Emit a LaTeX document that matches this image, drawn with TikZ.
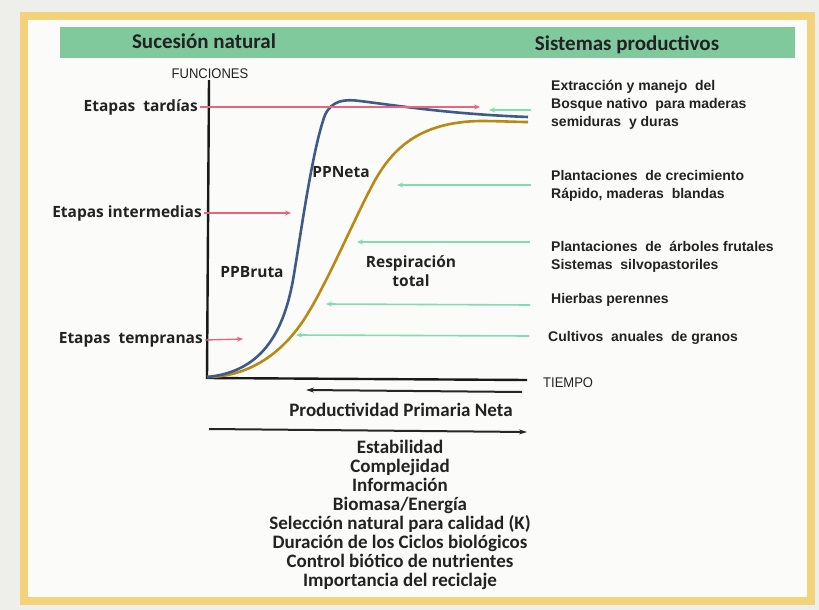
\documentclass[tikz,border=0pt]{standalone}
\usepackage{fontspec}
\setmainfont{Carlito}
\newfontfamily\arialf{Liberation Sans}
\newfontfamily\opensf{Open Sans}
\usetikzlibrary{arrows.meta}
\definecolor{bgc}{HTML}{EEEEEA}
\definecolor{innerc}{HTML}{FBFBFA}
\definecolor{framec}{HTML}{F3D27A}
\definecolor{bannerc}{HTML}{7FC99C}
\definecolor{redc}{HTML}{E8657E}
\definecolor{greenc}{HTML}{82DDAE}
\definecolor{bluec}{HTML}{3E5A88}
\definecolor{orangec}{HTML}{B98A12}
\definecolor{textc}{HTML}{222222}
\tikzset{
  hdr/.style={font=\fontsize{21}{21}\selectfont\bfseries, text=textc, inner sep=0},
  leftlab/.style={font=\opensf\fontsize{15.5}{15.5}\selectfont\bfseries, text=textc, anchor=east, inner sep=2},
  rightlab/.style={font=\arialf\fontsize{14}{18}\selectfont\bfseries, text=textc, anchor=north west, align=left, inner sep=0},
  curvelab/.style={font=\opensf\fontsize{15.5}{19}\selectfont\bfseries, text=textc, align=center, inner sep=0},
  axlab/.style={font=\arialf\fontsize{14}{14}\selectfont, text=textc, inner sep=0},
  listlab/.style={font=\fontsize{19}{19}\selectfont\bfseries, text=textc, align=center, inner sep=0},
  redarr/.style={draw=redc, line width=1.4, -{Stealth[length=6,width=5]}},
  greenarr/.style={draw=greenc, line width=1.6, -{Stealth[length=6,width=5]}},
  axisline/.style={draw=black!90, line width=2.4},
  curve/.style={line width=2.6, line join=round},
  blackarr/.style={draw=black!85, line width=2, -{Stealth[length=8,width=5]}}
}
\begin{document}
\begin{tikzpicture}[x=1pt,y=-1pt]
\fill[bgc] (0,0) rectangle (819,610);
\useasboundingbox (0,0) rectangle (819,610);
\fill[innerc] (24,16) rectangle (811,601);
\draw[framec, line width=8] (24,16) rectangle (811,601);
\fill[bannerc] (60,27) rectangle (795,58);
\node[hdr] (sn) at (204,41) {Sucesión natural};
\node[hdr] (sp) at (627,45) {Sistemas productivos};

% axes
\coordinate (ytop) at (209,80);
\coordinate (O) at (207,378);
\coordinate (xend) at (527,380);
\draw[axisline] (ytop) -- (O) -- (xend);
\node[axlab] (fun) at (210,74) {\scalebox{0.93}[1]{FUNCIONES}};
\node[axlab, anchor=west] (tiempo) at (543,383) {\scalebox{0.93}[1]{TIEMPO}};

% curves
\draw[curve, orangec] (207,377) .. controls (245,377) and (280,357) .. (305,318)
  .. controls (330,279) and (362,200) .. (380,172)
  .. controls (398,144) and (425,122) .. (480,121)
  .. controls (500,121) and (515,122) .. (528,122);
\draw[curve, bluec] (207,377) .. controls (260,372) and (283,335) .. (293,280)
  .. controls (300,240) and (312,150) .. (325,115)
  .. controls (332,100) and (345,99) .. (360,101)
  .. controls (400,106) and (450,114) .. (528,117);

% left labels and red arrows
\node[leftlab] (tard) at (200,107) {Etapas\ \ tardías};
\node[leftlab] (inter) at (204,213) {Etapas intermedias};
\node[leftlab] (temp) at (205,340) {Etapas\ \ tempranas};
\coordinate (tardE) at (480,107);
\coordinate (interE) at (291,213);
\coordinate (tempE) at (243,339);
\draw[redarr] (tard.east) -- (tardE);
\draw[redarr] (inter.east) -- (interE);
\draw[redarr] (temp.east) -- (tempE);

% right labels
\node[rightlab] (r1) at (551,80) {Extracción y manejo\ \ del\\Bosque nativo\ \ para maderas\\semiduras\ \ y duras};
\node[rightlab] (r2) at (551,170) {Plantaciones\ \ de crecimiento\\Rápido, maderas\ \ blandas};
\node[rightlab] (r3) at (551,241) {Plantaciones\ \ de\ \ árboles frutales\\Sistemas\ \ silvopastoriles};
\node[rightlab] (r4) at (551,293) {Hierbas perennes};
\node[rightlab] (r5) at (548,331) {Cultivos\ \ anuales\ \ de granos};

% green arrows
\coordinate (g1s) at (531,110); \coordinate (g1e) at (489,110);
\coordinate (g2s) at (531,185); \coordinate (g2e) at (397,185);
\coordinate (g3s) at (530,242); \coordinate (g3e) at (357,242);
\coordinate (g4s) at (530,305); \coordinate (g4e) at (326,304);
\coordinate (g5s) at (529,336); \coordinate (g5e) at (296,335);
\draw[greenarr] (g1s) -- (g1e);
\draw[greenarr] (g2s) -- (g2e);
\draw[greenarr] (g3s) -- (g3e);
\draw[greenarr] (g4s) -- (g4e);
\draw[greenarr] (g5s) -- (g5e);

% curve labels
\node[curvelab] (ppb) at (252,272) {PPBruta};
\node[curvelab] (ppn) at (341,172) {PPNeta};
\node[curvelab] (resp) at (411,271) {Respiración\\total};

% bottom
\coordinate (b1s) at (522,392); \coordinate (b1e) at (306,390);
\draw[blackarr] (b1s) -- (b1e);
\node[listlab] (ppneta) at (401,410) {Productividad Primaria Neta};
\coordinate (b2s) at (209,429); \coordinate (b2e) at (527,432);
\draw[blackarr] (b2s) -- (b2e);
\node[listlab, anchor=north] (lista) at (400,440) {Estabilidad\\Complejidad\\Información\\Biomasa/Energía\\Selección natural para calidad (K)\\Duración de los Ciclos biológicos\\Control biótico de nutrientes\\Importancia del reciclaje};
\end{tikzpicture}
\end{document}
